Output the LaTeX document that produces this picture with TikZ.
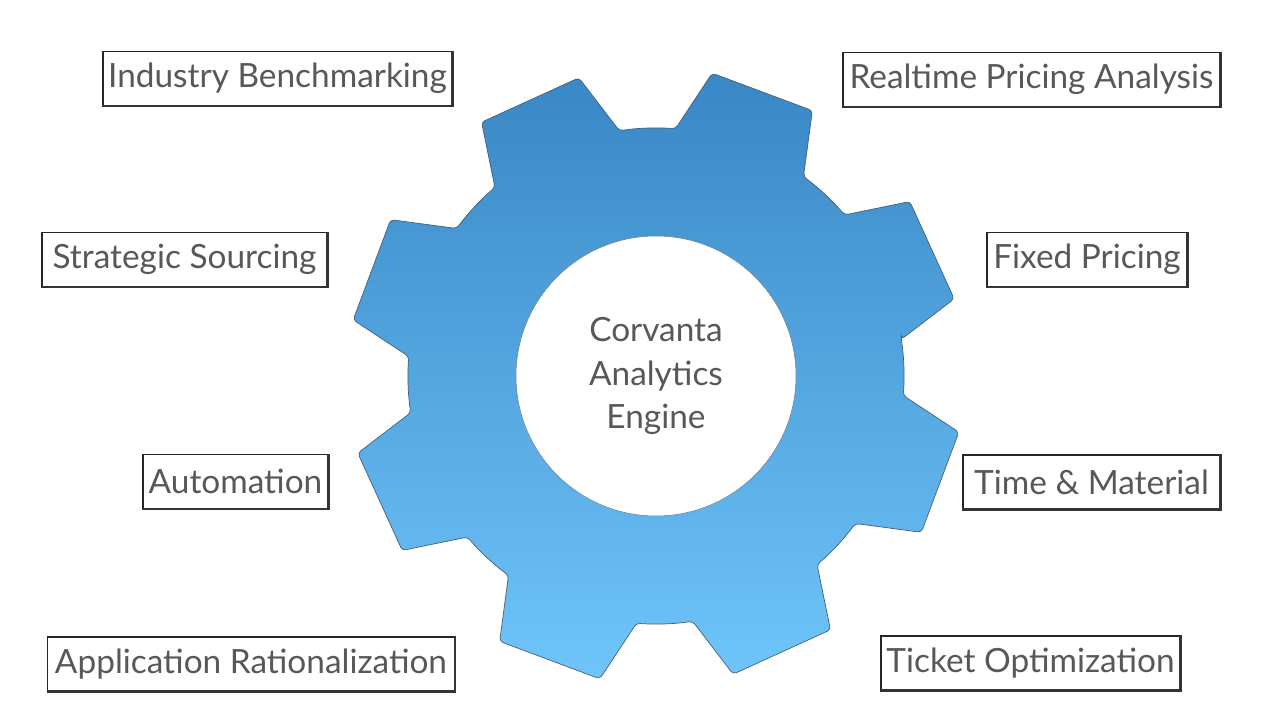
\documentclass[tikz,border=0pt]{standalone}
\usepackage{fontspec}
\setmainfont{Lato}
\definecolor{gearTop}{RGB}{57,135,197}
\definecolor{gearBot}{RGB}{111,197,250}
\definecolor{gearEdge}{RGB}{70,95,120}
\definecolor{txt}{RGB}{88,88,88}
\tikzset{
  tag/.style={draw=black!85, line width=0.7pt, fill=white, text=txt, minimum height=1.08cm, inner sep=0pt,
    font=\fontsize{19}{23}\selectfont},
  tagedge/.style={draw=black!80, line width=1.3pt}
}
\begin{document}
\begin{tikzpicture}[x=0.02cm, y=0.02cm]
\useasboundingbox (0,0) rectangle (1280,720);
% gear with eight teeth
\begin{scope}[shift={(656,344)}]
\path[top color=gearTop, bottom color=gearBot, draw=gearEdge, line width=0.4pt, rounded corners=2pt]
  (8.5:248) \foreach \k in {0,...,7}{
    -- ({24.5+45*\k-10}:308) -- ({24.5+45*\k+10}:308) -- ({24.5+45*\k+16}:248)
    arc[start angle={24.5+45*\k+16}, end angle={24.5+45*\k+29}, radius=248]
  } -- cycle;
\fill[white, draw=gearEdge!80, line width=0.3pt] (0,0) circle[radius=140];
\end{scope}
\node[align=center, text=txt, font=\fontsize{19}{25}\selectfont] (hub) at (656,344) {Corvanta\\Analytics\\Engine};
% labels
\node[tag, minimum width=6.98cm] (bench) at (277.5,641.5) {Industry Benchmarking};
\node[tag, minimum width=7.54cm] (realtime) at (1031.5,640.5) {Realtime Pricing Analysis};
\node[tag, minimum width=5.70cm] (sourcing) at (184.5,460.5) {Strategic Sourcing};
\node[tag, minimum width=4.00cm] (fixed) at (1087,460.5) {Fixed Pricing};
\node[tag, minimum width=3.70cm] (auto) at (235.5,238.5) {Automation};
\node[tag, minimum width=5.14cm] (timemat) at (1091.5,238) {Time \& Material};
\node[tag, minimum width=8.14cm] (apprat) at (251,56) {Application Rationalization};
\node[tag, minimum width=5.98cm] (ticket) at (1030.5,57) {Ticket Optimization};
\foreach \n in {bench,realtime,sourcing,fixed,auto,timemat,apprat,ticket}
  \draw[tagedge] (\n.north east) -- (\n.south east) -- (\n.south west);
\end{tikzpicture}
\end{document}
